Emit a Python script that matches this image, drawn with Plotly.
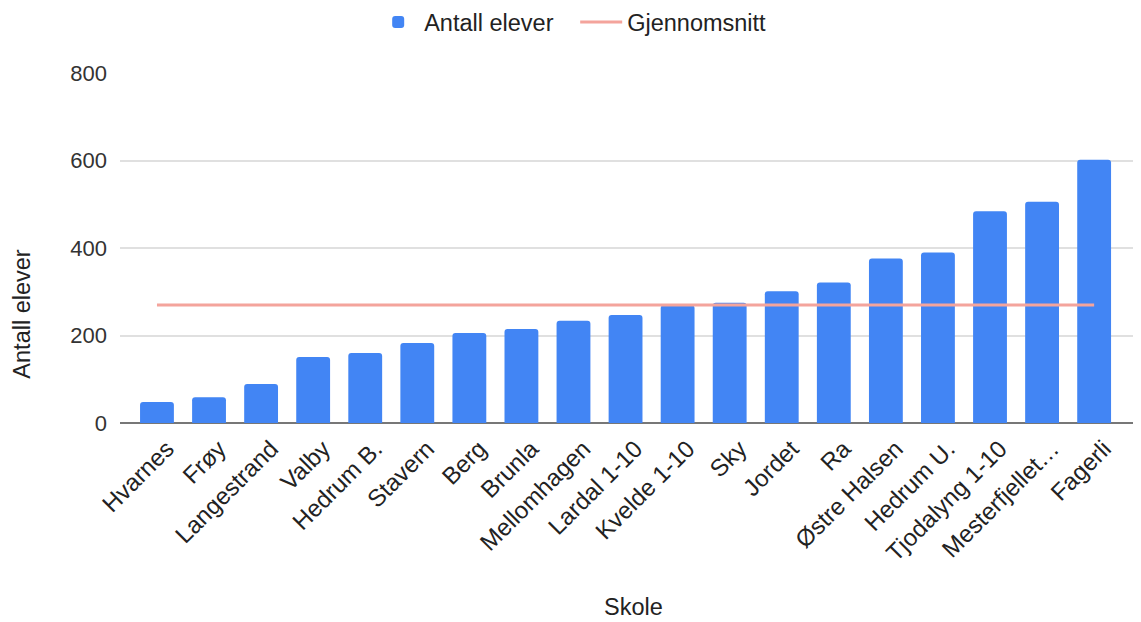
import plotly.graph_objects as go

skoler = ["Hvarnes", "Frøy", "Langestrand", "Valby", "Hedrum B.", "Stavern", "Berg", "Brunla",
          "Mellomhagen", "Lardal 1-10", "Kvelde 1-10", "Sky", "Jordet", "Ra", "Østre Halsen",
          "Hedrum U.", "Tjodalyng 1-10", "Mesterfjellet…", "Fagerli"]
antall_elever = [48, 59, 89, 151, 160, 183, 206, 215, 234, 247, 269, 275, 301, 321, 376, 390, 484, 506, 602]
gjennomsnitt = [270] * len(skoler)
y_ticks = [0, 200, 400, 600, 800]

FONT = "Liberation Sans, Arial, sans-serif"
TXT = "#222222"

fig = go.Figure()
fig.add_trace(go.Bar(x=skoler, y=antall_elever, name="Antall elever",
                     marker=dict(color="#4285f4", line=dict(width=0))))
fig.add_trace(go.Scatter(x=skoler, y=gjennomsnitt, name="Gjennomsnitt", mode="lines",
                         line=dict(color="#f4a49c", width=3)))

fig.update_layout(
    width=1133, height=614,
    margin=dict(l=112, r=0, t=65, b=199),
    paper_bgcolor="white", plot_bgcolor="white",
    font=dict(family=FONT, size=23, color=TXT),
    bargap=0.35, barcornerradius=3,
    showlegend=True,
    legend=dict(orientation="h", x=0.247, xanchor="left", y=0.977, yanchor="middle",
                yref="container", font=dict(size=23.5, color=TXT),
                itemwidth=42, entrywidth=146, traceorder="normal"),
    xaxis=dict(range=[-0.71, 18.9], tickangle=-45, showgrid=False,
               tickfont=dict(size=24, color=TXT), ticks="",
               ticklabelshift=10, ticklabelstandoff=6),
    yaxis=dict(range=[0, 800], tickvals=y_ticks, showgrid=True, gridcolor="#e0e0e0", gridwidth=2,
               zeroline=True, zerolinecolor="#777777", zerolinewidth=2,
               tickfont=dict(size=22, color="#333333"), ticks="", ticklabelstandoff=12),
    annotations=[
        dict(text="Skole", xref="paper", yref="paper", x=0.5025, y=-0.526,
             showarrow=False, xanchor="center", yanchor="middle",
             font=dict(size=23.5, color=TXT)),
        dict(text="Antall elever", xref="paper", yref="paper", x=-0.0955, y=0.311,
             showarrow=False, xanchor="center", yanchor="middle", textangle=-90,
             font=dict(size=23.5, color=TXT)),
    ],
)

fig.write_html("out.html")
